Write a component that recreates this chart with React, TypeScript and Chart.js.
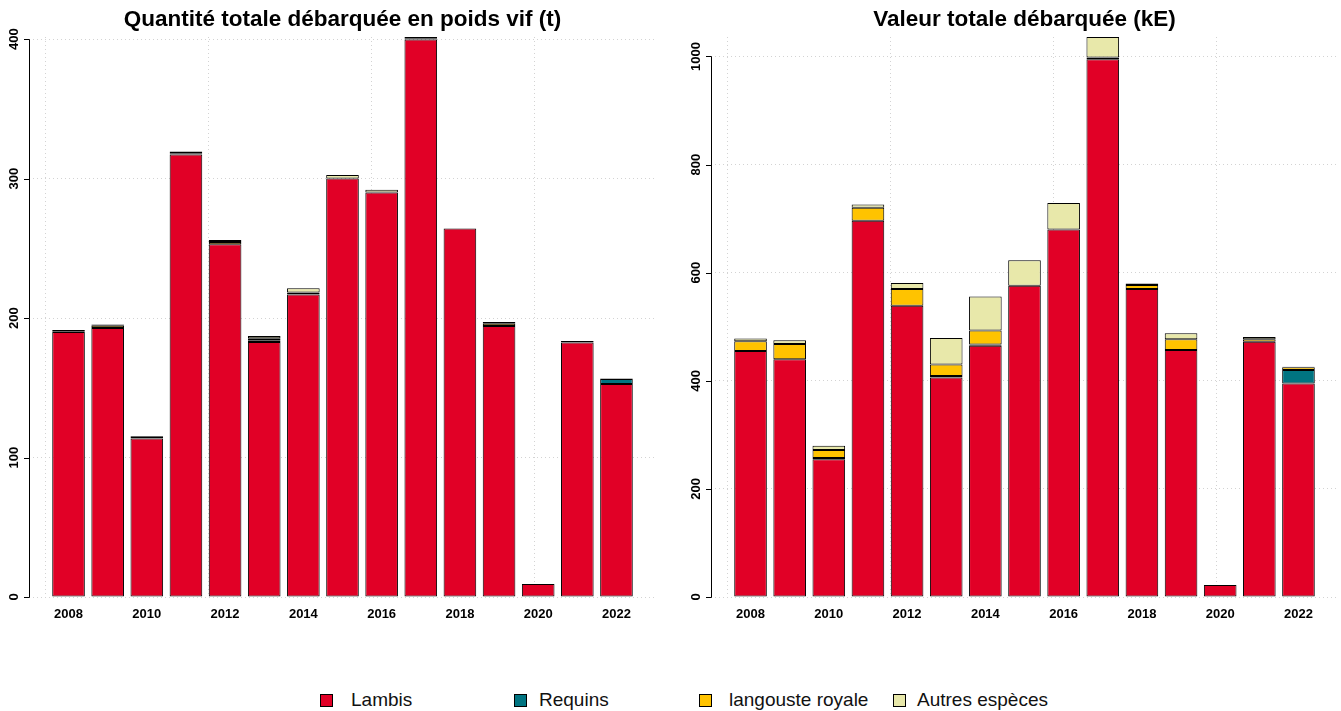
import React, { useEffect, useRef } from "react";
import { Chart, registerables } from "chart.js";

Chart.register(...registerables);

// ---------- DATA ----------
const years = [2008, 2009, 2010, 2011, 2012, 2013, 2014, 2015, 2016, 2017, 2018, 2019, 2020, 2021, 2022];
const xTickYears = [2008, 2010, 2012, 2014, 2016, 2018, 2020, 2022];

const seriesNames = ["Lambis", "Requins", "langouste royale", "Autres espèces"];
const seriesColors = ["#E10026", "#007481", "#FFC300", "#E8E8AA"];

// Quantité (t)
const qtyLambis = [190, 193, 113.7, 317.4, 253, 182.9, 216.9, 300.2, 290, 399.8, 264.3, 194.4, 9.3, 182.6, 152.8];
const qtyRequins = [0, 0, 1, 0, 0, 1.2, 0, 0, 0, 0, 0, 0, 0, 1, 3.6];
const qtyLangouste = [0.5, 1.5, 0.3, 0.8, 1.5, 1.5, 1.5, 0, 0, 0.5, 0, 1.5, 0, 0, 0];
const qtyAutres = [1, 1, 0.4, 1.2, 1.5, 1.6, 3, 2.4, 2, 1.3, 0, 1.4, 0, 0, 0.3];
const qtyTicks = [0, 100, 200, 300, 400];

// Valeur (kE)
const valLambis = [455, 440, 255, 696, 539, 406, 465, 576, 680, 995, 570, 457, 22, 472, 395];
const valRequins = [0, 0, 2, 0, 0, 3, 2, 0, 0, 0, 0, 0, 0, 0, 25];
const valLangouste = [18, 28, 15, 24, 31, 21, 26, 0, 0, 3, 7, 20, 0, 5, 5];
const valAutres = [5, 7, 8, 6, 11, 49, 63, 47, 49, 38, 3, 11, 0, 4, 1];
const valTicks = [0, 200, 400, 600, 800, 1000];

// ---------- LAYOUT (R barplot geometry: width 1, space 0.2, 4% axis extension) ----------
const BAR_STEP = 1.2;
const BAR_FRAC = 1 / BAR_STEP;
const R_GRID_UNITS = [0, 5, 10, 15];
const firstCenter = 0.7;
const spanUnits = BAR_STEP * years.length - 0.2;
const X_MARGIN_YEARS = (0.5 + 0.04 * spanUnits) / BAR_STEP;
const gridYears = R_GRID_UNITS.map((u) => years[0] + (u - firstCenter) / BAR_STEP);

const FONT = '"Liberation Sans", Arial, Helvetica, sans-serif';
const GRID_COLOR = "#D3D3D3";

const rAxisPlugin = {
  id: "rAxis",
  afterDraw(chart: any) {
    const ys = chart.scales.y;
    const ticks: number[] = chart.options.plugins.rAxis.ticks;
    const ctx = chart.ctx;
    const x0 = Math.round(chart.chartArea.left);
    ctx.save();
    ctx.strokeStyle = "#000";
    ctx.lineWidth = 1;
    ctx.beginPath();
    const yTop = Math.round(ys.getPixelForValue(ticks[ticks.length - 1])) + 0.5;
    const yBot = Math.round(ys.getPixelForValue(ticks[0])) + 0.5;
    ctx.moveTo(x0 + 0.5, yTop);
    ctx.lineTo(x0 + 0.5, yBot);
    for (const t of ticks) {
      const py = Math.round(ys.getPixelForValue(t)) + 0.5;
      ctx.moveTo(x0 + 0.5, py);
      ctx.lineTo(x0 - 5, py);
    }
    ctx.stroke();
    ctx.fillStyle = "#000";
    ctx.font = `bold 13px ${FONT}`;
    ctx.textAlign = "center";
    ctx.textBaseline = "middle";
    for (const t of ticks) {
      const py = ys.getPixelForValue(t);
      ctx.save();
      ctx.translate(x0 - 15, py);
      ctx.rotate(-Math.PI / 2);
      ctx.fillText(String(t), 0, 0);
      ctx.restore();
    }
    ctx.restore();
  },
};

function makeConfig(title: string, series: number[][], yTicks: number[]): any {
  const totals = years.map((_, i) => series.reduce((s, arr) => s + arr[i], 0));
  const yMax = Math.max(...totals);
  const xMin = years[0] - X_MARGIN_YEARS;
  const xMax = years[years.length - 1] + X_MARGIN_YEARS;
  return {
    type: "bar",
    data: {
      datasets: series.map((arr, k) => ({
        label: seriesNames[k],
        data: years.map((yr, i) => ({ x: yr, y: arr[i] })),
        backgroundColor: seriesColors[k],
        borderColor: "#000",
        borderWidth: 1,
        borderSkipped: false,
        barPercentage: BAR_FRAC,
        categoryPercentage: 1,
        stack: "s",
        xAxisID: "x",
        yAxisID: "y",
      })),
    },
    options: {
      animation: false,
      responsive: false,
      devicePixelRatio: 1,
      layout: { padding: 0 },
      plugins: {
        legend: { display: false },
        tooltip: { enabled: false },
        title: {
          display: true,
          text: title,
          color: "#000",
          font: { family: FONT, size: 22.5, weight: "bold", lineHeight: 1.2 },
          padding: { top: 6, bottom: 4 },
        },
        rAxis: { ticks: yTicks },
      },
      scales: {
        x: {
          type: "linear",
          position: "bottom",
          min: xMin,
          max: xMax,
          bounds: "data",
          offset: false,
          grid: { display: false, offset: false, drawTicks: false },
          border: { display: false },
          afterBuildTicks: (s: any) => {
            s.ticks = xTickYears.map((v) => ({ value: v }));
          },
          afterFit: (s: any) => {
            s.height = 43;
          },
          ticks: {
            autoSkip: false,
            maxRotation: 0,
            minRotation: 0,
            padding: 10,
            color: "#000",
            font: { family: FONT, size: 13, weight: "bold" },
            callback: (v: any) => String(v),
          },
        },
        xg: {
          type: "linear",
          position: "bottom",
          min: xMin,
          max: xMax,
          bounds: "data",
          offset: false,
          grid: { display: true, offset: false, drawTicks: false, color: GRID_COLOR, lineWidth: 1 },
          border: { display: false, dash: [1, 3] },
          afterBuildTicks: (s: any) => {
            s.ticks = gridYears.map((v) => ({ value: v }));
          },
          afterFit: (s: any) => {
            s.height = 0;
          },
          ticks: { display: false },
        },
        y: {
          type: "linear",
          stacked: true,
          min: 0,
          max: yMax,
          bounds: "data",
          grid: { display: true, drawTicks: false, color: GRID_COLOR, lineWidth: 1 },
          border: { display: false, dash: [1, 3] },
          afterBuildTicks: (s: any) => {
            s.ticks = yTicks.map((v) => ({ value: v }));
          },
          afterFit: (s: any) => {
            s.width = 0;
          },
          ticks: { display: false },
        },
      },
    },
    plugins: [rAxisPlugin],
  };
}

function BarPanel(props: { title: string; series: number[][]; yTicks: number[]; left: number; width: number; padL: number; padR: number }) {
  const ref = useRef<HTMLCanvasElement | null>(null);
  useEffect(() => {
    if (!ref.current) return;
    const cfg = makeConfig(props.title, props.series, props.yTicks);
    cfg.options.layout.padding = { left: props.padL, right: props.padR, top: 0, bottom: 0 };
    const chart = new Chart(ref.current, cfg);
    return () => chart.destroy();
  }, []);
  return (
    <canvas
      ref={ref}
      width={props.width}
      height={640}
      style={{ position: "absolute", left: props.left, top: 0, width: props.width, height: 640 }}
    />
  );
}

const legendPos = [
  { box: 320, text: 351 },
  { box: 514, text: 539 },
  { box: 699, text: 729 },
  { box: 893, text: 917 },
];

export default function App() {
  return (
    <div
      style={{
        position: "fixed",
        left: 0,
        top: 0,
        width: 1341,
        height: 711,
        background: "#fff",
        fontFamily: FONT,
        overflow: "hidden",
      }}
    >
      <BarPanel
        title="Quantité totale débarquée en poids vif (t)"
        series={[qtyLambis, qtyRequins, qtyLangouste, qtyAutres]}
        yTicks={qtyTicks}
        left={0}
        width={685}
        padL={29}
        padR={29}
      />
      <BarPanel
        title="Valeur totale débarquée (kE)"
        series={[valLambis, valRequins, valLangouste, valAutres]}
        yTicks={valTicks}
        left={680}
        width={661}
        padL={31}
        padR={3}
      />
      {seriesNames.map((name, k) => (
        <React.Fragment key={name}>
          <div
            style={{
              position: "absolute",
              left: legendPos[k].box,
              top: 694,
              width: 11,
              height: 11,
              background: seriesColors[k],
              border: "1px solid #000",
            }}
          />
          <div
            style={{
              position: "absolute",
              left: legendPos[k].text,
              top: 689,
              fontSize: 19,
              lineHeight: "22px",
              color: "#111",
              whiteSpace: "nowrap",
            }}
          >
            {name}
          </div>
        </React.Fragment>
      ))}
    </div>
  );
}
